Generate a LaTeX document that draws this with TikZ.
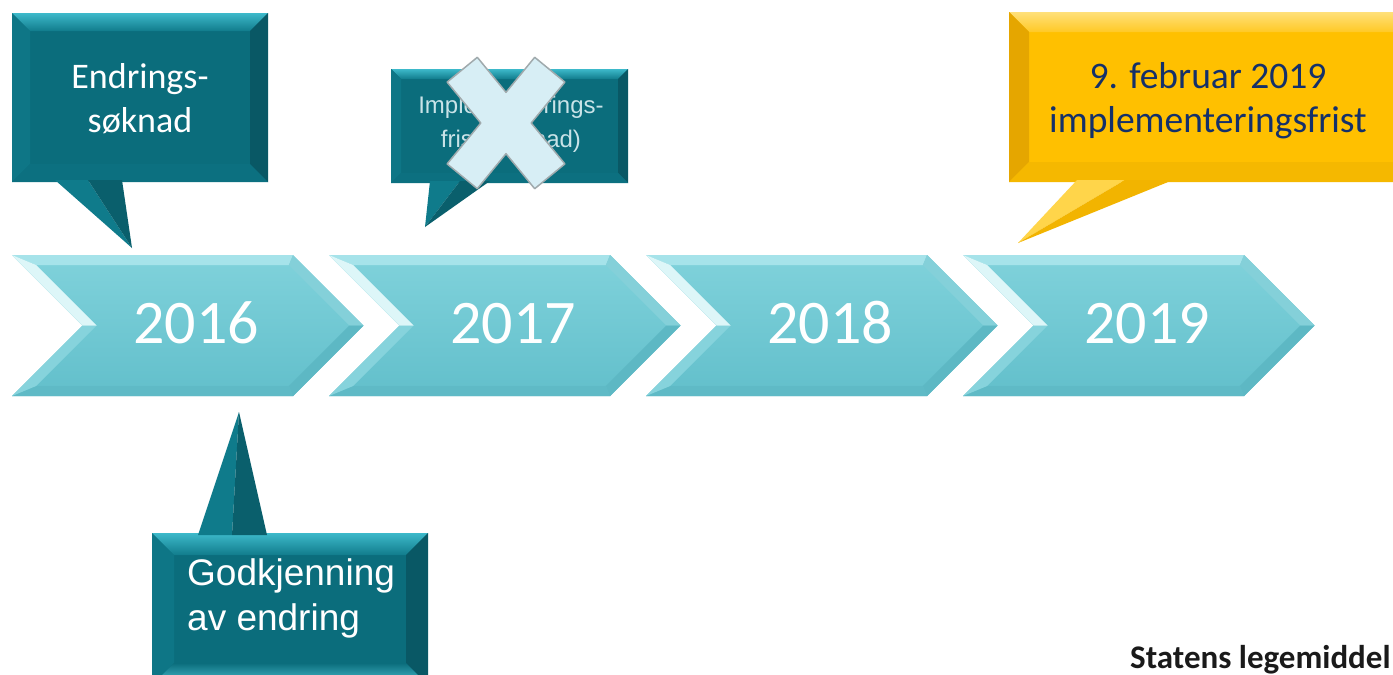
\documentclass[tikz,border=0pt]{standalone}
\usepackage{fontspec}
\setmainfont{Carlito}
\newfontfamily\arialf{Liberation Sans}
\definecolor{chevtop}{HTML}{80D2DB}
\definecolor{chevbot}{HTML}{62BFCB}
\definecolor{chevTf}{HTML}{A6E3EA}
\definecolor{chevULf}{HTML}{DDF6F8}
\definecolor{chevLLf}{HTML}{86D3DC}
\definecolor{chevURf}{HTML}{84D0D9}
\definecolor{chevLRf}{HTML}{5DB8C4}
\definecolor{chevBf}{HTML}{5FBAC6}
\definecolor{dtmain}{HTML}{0B6D7C}
\definecolor{dttop}{HTML}{3DB9CA}
\definecolor{dttopb}{HTML}{117C8C}
\definecolor{dtleft}{HTML}{0E7686}
\definecolor{dtright}{HTML}{095865}
\definecolor{dtbot}{HTML}{0C7080}
\definecolor{dtbotc}{HTML}{4CC3D3}
\definecolor{dttailA}{HTML}{0F7B8B}
\definecolor{dttailB}{HTML}{0A5F6C}
\definecolor{ymain}{HTML}{FFC000}
\definecolor{ytop}{HTML}{FFE07A}
\definecolor{ytopb}{HTML}{FFC925}
\definecolor{yleft}{HTML}{E5A600}
\definecolor{ybot}{HTML}{F5B800}
\definecolor{ytailA}{HTML}{FFD54A}
\definecolor{ytailB}{HTML}{F2B400}
\definecolor{navytext}{HTML}{14306A}
\definecolor{crossfill}{HTML}{D7EEF5}
\definecolor{crossline}{HTML}{A0AAAD}
\definecolor{ctwotext}{HTML}{C9E3E8}
\definecolor{logotext}{HTML}{1A1A1A}
\tikzset{
 dt main/.style={fill=dtmain},
 dt top/.style={top color=dttop, bottom color=dttopb},
 dt left/.style={fill=dtleft},
 dt right/.style={fill=dtright},
 dt bot/.style={fill=dtbot},
 dg main/.style={fill=dtmain},
 dg top/.style={top color=dttop, bottom color=dttopb},
 dg left/.style={fill=dtleft},
 dg right/.style={fill=dtright},
 dg bot/.style={top color=dtmain, bottom color=dtbotc},
 yl main/.style={fill=ymain},
 yl top/.style={top color=ytop, bottom color=ytopb},
 yl left/.style={fill=yleft},
 yl right/.style={fill=ybot},
 yl bot/.style={fill=ybot},
 chev main/.style={top color=chevtop, bottom color=chevbot},
 yeartext/.style={text=white, font=\fontsize{62}{70}\selectfont, inner sep=0, anchor=base},
 calltext/.style={text=white, font=\fontsize{36}{44}\selectfont, inner sep=0, anchor=base},
 godtext/.style={text=white, font=\arialf\fontsize{37}{45}\selectfont, inner sep=0, anchor=base west},
 smalltext/.style={text=ctwotext, font=\arialf\fontsize{24}{30}\selectfont, inner sep=0, anchor=base},
 yeltext/.style={text=navytext, font=\fontsize{37.5}{45}\selectfont, inner sep=0, anchor=base},
 logo/.style={text=logotext, font=\bfseries\fontsize{33}{38}\selectfont, inner sep=0, anchor=base west},
 crossmark/.style={fill=crossfill, draw=crossline, line width=1.5pt, line join=round}
}
\newcommand\bevbox[6]{%
 \path[#6 main] (#1,#2) rectangle (#3,#4);
 \path[#6 top] (#1,#2) -- (#3,#2) -- (#3-#5,#2+#5) -- (#1+#5,#2+#5) -- cycle;
 \path[#6 left] (#1,#2) -- (#1+#5,#2+#5) -- (#1+#5,#4-#5) -- (#1,#4) -- cycle;
 \path[#6 right] (#3,#2) -- (#3-#5,#2+#5) -- (#3-#5,#4-#5) -- (#3,#4) -- cycle;
 \path[#6 bot] (#1,#4) -- (#1+#5,#4-#5) -- (#3-#5,#4-#5) -- (#3,#4) -- cycle;
}
\begin{document}
\begin{tikzpicture}[x=1pt,y=-1pt]
\useasboundingbox (0,0) rectangle (1393,675);
\clip (0,0) rectangle (1393,675);
\fill[white] (0,0) rectangle (1393,675);

% chevrons
\foreach \x/\yr/\nm in {12/2016/ysixteen, 329/2017/yseventeen, 646/2018/yeighteen, 963/2019/ynineteen}{
 \path[chev main] (\x,255) -- (\x+281,255) -- (\x+351.5,325.5) -- (\x+281,396) -- (\x,396) -- (\x+70.5,325.5) -- cycle;
 \fill[chevTf] (\x,255) -- (\x+281,255) -- (\x+276.9,265) -- (\x+24.1,265) -- cycle;
 \fill[chevURf] (\x+281,255) -- (\x+351.5,325.5) -- (\x+337.4,325.5) -- (\x+276.9,265) -- cycle;
 \fill[chevLRf] (\x+351.5,325.5) -- (\x+281,396) -- (\x+276.9,386) -- (\x+337.4,325.5) -- cycle;
 \fill[chevBf] (\x+281,396) -- (\x,396) -- (\x+24.1,386) -- (\x+276.9,386) -- cycle;
 \fill[chevLLf] (\x,396) -- (\x+70.5,325.5) -- (\x+84.6,325.5) -- (\x+24.1,386) -- cycle;
 \fill[chevULf] (\x+70.5,325.5) -- (\x,255) -- (\x+24.1,265) -- (\x+84.6,325.5) -- cycle;
 \node[yeartext] (\nm) at (\x+184,343) {\yr};
}

% callout 1: Endrings-soknad
\bevbox{12}{13}{268}{182}{18}{dt}
\fill[dttailA] (55,180) -- (88,180) -- (132,248) -- cycle;
\fill[dttailB] (88,180) -- (122,180) -- (132,248) -- cycle;
\node[calltext] (endr) at (140,88) {Endrings-};
\node[calltext] (sokn) at (140,132) {søknad};

% callout 2: crossed out
\bevbox{391}{69}{628}{183}{10}{dt}
\fill[dttailA] (430,181) -- (460,181) -- (425,227) -- cycle;
\fill[dttailB] (460,181) -- (490,181) -- (425,227) -- cycle;
\node[smalltext] (impl) at (511,113) {Implementerings-};
\node[smalltext] (frist) at (511,147) {frist (søknad)};
\path[crossmark] (447.1,82.1) -- (477.3,57.3) -- (506,92.3) -- (534.7,57.3) -- (564.9,82.1) -- (531.2,123) -- (564.9,163.9) -- (534.7,188.7) -- (506,153.7) -- (477.3,188.7) -- (447.1,163.9) -- (480.8,123) -- cycle;

% callout 3: yellow
\bevbox{1009}{12}{1420}{182}{20}{yl}
\fill[ytailA] (1077,180) -- (1125,180) -- (1018,243) -- cycle;
\fill[ytailB] (1125,180) -- (1173,180) -- (1018,243) -- cycle;
\node[yeltext] (feb) at (1208,88) {9. februar 2019};
\node[yeltext] (frist3) at (1208,132) {implementeringsfrist};

% callout 4: Godkjenning
\bevbox{152}{533}{428}{685}{22}{dg}
\fill[dttailA] (198,535) -- (232,535) -- (239,412) -- cycle;
\fill[dttailB] (232,535) -- (267,535) -- (239,412) -- cycle;
\node[godtext] (godk) at (187,585) {Godkjenning};
\node[godtext] (avend) at (187,630) {av endring};

% logo text
\node[logo] (slv) at (1130,668) {Statens legemiddel};
\end{tikzpicture}
\end{document}
